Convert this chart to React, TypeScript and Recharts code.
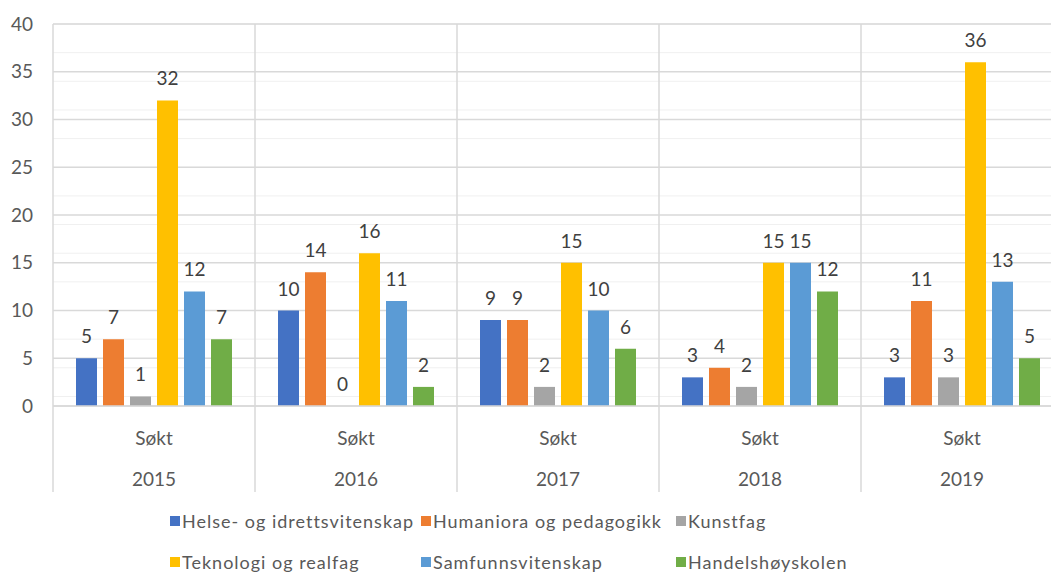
import React from 'react'
import {
  BarChart,
  Bar,
  XAxis,
  YAxis,
  CartesianGrid,
  Legend,
  LabelList,
} from 'recharts'

// Data
const years = ['2015', '2016', '2017', '2018', '2019']
const subLabel = 'Søkt'
const helse = [5, 10, 9, 3, 3]
const humaniora = [7, 14, 9, 4, 11]
const kunstfag = [1, 0, 2, 2, 3]
const teknologi = [32, 16, 15, 15, 36]
const samfunn = [12, 11, 10, 15, 13]
const handels = [7, 2, 6, 12, 5]
const yTicks = [0, 5, 10, 15, 20, 25, 30, 35, 40]
const minorTicks = Array.from({ length: 41 }, (_, i) => i)

const SERIES = [
  { key: 'helse', name: 'Helse- og idrettsvitenskap', color: '#4472C4', values: helse },
  { key: 'humaniora', name: 'Humaniora og pedagogikk', color: '#ED7D31', values: humaniora },
  { key: 'kunstfag', name: 'Kunstfag', color: '#A5A5A5', values: kunstfag },
  { key: 'teknologi', name: 'Teknologi og realfag', color: '#FFC000', values: teknologi },
  { key: 'samfunn', name: 'Samfunnsvitenskap', color: '#5B9BD5', values: samfunn },
  { key: 'handels', name: 'Handelshøyskolen', color: '#70AD47', values: handels },
]

const data = years.map((year, i) => {
  const row: Record<string, string | number> = { year }
  SERIES.forEach((s) => {
    row[s.key] = s.values[i]
  })
  return row
})

const FONT = 'Lato, "Open Sans", sans-serif'
const TEXT = '#595959'
const GRID = '#d9d9d9'
const PLOT_H = 382
const AXIS_H = 86

const CategoryTick = (props: any) => {
  const { x, y, payload } = props
  const half = payload?.offset ?? 101
  const left = x - half
  return (
    <g>
      <line x1={left} y1={y - PLOT_H} x2={left} y2={y + AXIS_H} stroke={GRID} strokeWidth={1.5} />
      <text x={x} y={y + 31} textAnchor="middle" dominantBaseline="central" fill={TEXT} fontSize={19} fontFamily={FONT}>
        {subLabel}
      </text>
      <text x={x} y={y + 72} textAnchor="middle" dominantBaseline="central" fill={TEXT} fontSize={19} fontFamily={FONT}>
        {payload.value}
      </text>
    </g>
  )
}

// value label above each bar (also for zero values)
const BarValue = (props: any) => {
  const { x, y, width, value } = props
  if (value === undefined || value === null) return null
  return (
    <text
      x={Number(x) + Number(width) / 2}
      y={Number(y) - 15}
      textAnchor="middle"
      fill="#404040"
      fontSize={19}
      fontFamily={FONT}
    >
      {String(value)}
    </text>
  )
}

const LegendContent = () => (
  <div
    style={{
      display: 'grid',
      gridTemplateColumns: '251px 255px 260px',
      gridAutoRows: '41px',
      paddingLeft: 170,
      fontFamily: FONT,
      fontSize: 18,
      letterSpacing: 1,
      color: TEXT,
    }}
  >
    {SERIES.map((s) => (
      <div key={s.key} style={{ display: 'flex', alignItems: 'center', whiteSpace: 'nowrap' }}>
        <span style={{ width: 10, height: 10, backgroundColor: s.color, marginRight: 2, display: 'inline-block' }} />
        <span>{s.name}</span>
      </div>
    ))}
  </div>
)

// tiny non-zero size so that zero-valued bars still get their label
const minSize = (value: any) => (Number(value) === 0 ? 0.01 : 0)

export default function App() {
  return (
    <div
      style={{
        position: 'fixed',
        top: 0,
        left: 0,
        width: 1051,
        height: 574,
        overflow: 'hidden',
        background: '#fff',
      }}
    >
      <BarChart
        width={1070}
        height={574}
        data={data}
        margin={{ top: 24, right: 7, left: 0, bottom: 82 }}
        barCategoryGap={23}
        barGap={6}
      >
        <CartesianGrid horizontalValues={minorTicks} vertical={false} stroke="#f0f0f0" />
        <CartesianGrid horizontalValues={yTicks} vertical={false} stroke={GRID} strokeWidth={1.5} />
        <XAxis
          dataKey="year"
          height={AXIS_H}
          tickLine={false}
          tickSize={0}
          tickMargin={0}
          axisLine={{ stroke: GRID, strokeWidth: 1.5 }}
          tick={<CategoryTick />}
          interval={0}
        />
        <YAxis
          width={53}
          domain={[0, 40]}
          ticks={yTicks}
          axisLine={false}
          tickLine={false}
          tickSize={0}
          tickMargin={20}
          tick={{ fontSize: 19, fill: TEXT, fontFamily: FONT }}
        />
        <Legend
          layout="horizontal"
          verticalAlign="middle"
          content={<LegendContent />}
          wrapperStyle={{ top: 500, left: 0, width: 1051 }}
        />
        {SERIES.map((s) => (
          <Bar
            key={s.key}
            dataKey={s.key}
            name={s.name}
            fill={s.color}
            minPointSize={minSize}
            isAnimationActive={false}
          >
            <LabelList dataKey={s.key} content={<BarValue />} />
          </Bar>
        ))}
      </BarChart>
    </div>
  )
}
